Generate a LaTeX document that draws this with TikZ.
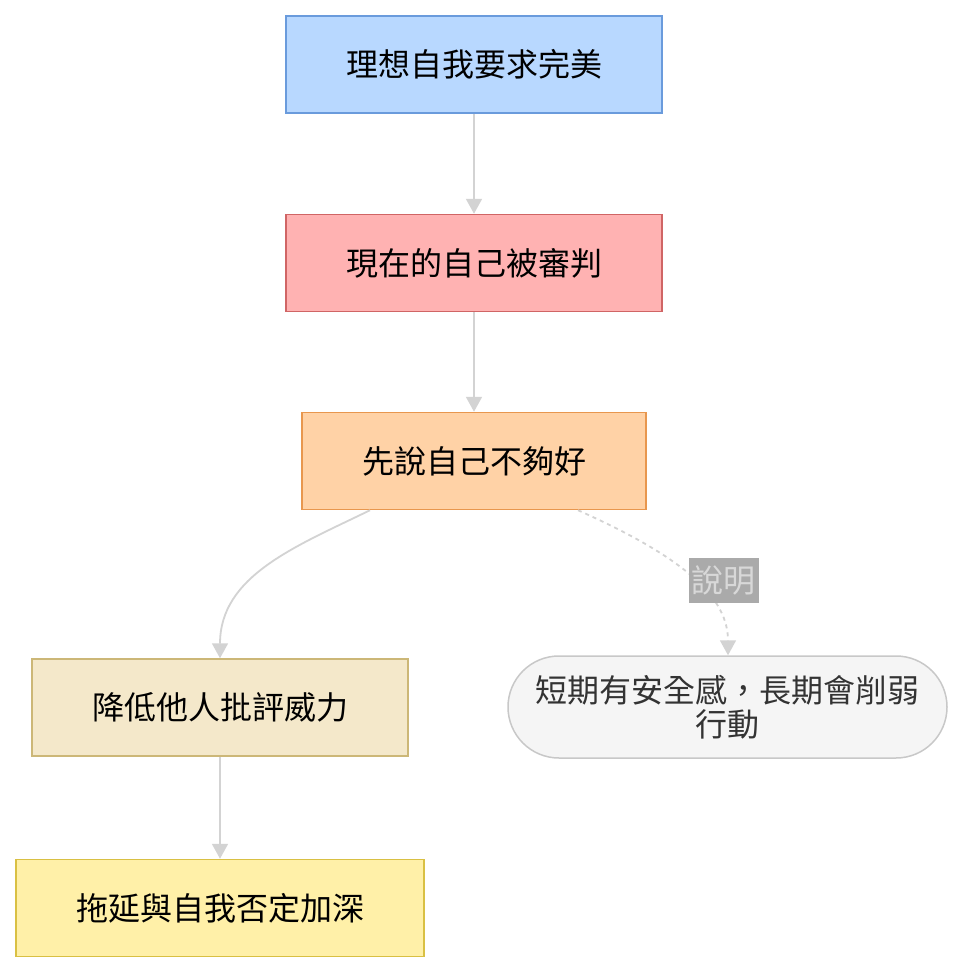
\documentclass[tikz,border=0pt]{standalone}
\usepackage{fontspec}
\newfontfamily\cjk{Noto Sans CJK TC}
\usetikzlibrary{arrows.meta,shapes.misc}
\definecolor{edgec}{HTML}{D3D3D3}
\definecolor{f1}{HTML}{B8D8FF}\definecolor{d1}{HTML}{6A9BDC}
\definecolor{f2}{HTML}{FFB2B2}\definecolor{d2}{HTML}{D06565}
\definecolor{f3}{HTML}{FFD2A6}\definecolor{d3}{HTML}{E8974E}
\definecolor{f4}{HTML}{F4E8CA}\definecolor{d4}{HTML}{CCB777}
\definecolor{f5}{HTML}{FFF0A8}\definecolor{d5}{HTML}{D9C043}
\definecolor{f6}{HTML}{F5F5F5}\definecolor{d6}{HTML}{C8C8C8}\definecolor{t6}{HTML}{333333}
\definecolor{lblbg}{HTML}{AAAAAA}\definecolor{lbltx}{HTML}{D8D8D8}
\tikzset{
  box/.style={draw, line width=1.5pt, minimum height=97pt, inner sep=0pt, font=\cjk\fontsize{32}{37}\selectfont, text=black},
  conn/.style={draw=edgec, line width=1.8pt, -{Triangle[width=16pt,length=15pt]}},
  edgelabel/.style={fill=lblbg, text=lbltx, inner xsep=3pt, minimum height=45pt, font=\cjk\fontsize{32}{36}\selectfont},
}
\begin{document}
\begin{tikzpicture}[x=1pt,y=-1pt]
\useasboundingbox[fill=white] (0,0) rectangle (964,974);
\node[box, fill=f1, draw=d1, minimum width=376pt] (n1) at (474,64.5) {理想自我要求完美};
\node[box, fill=f2, draw=d2, minimum width=376pt] (n2) at (474,263) {現在的自己被審判};
\node[box, fill=f3, draw=d3, minimum width=344pt] (n3) at (474,461) {先說自己不夠好};
\node[box, fill=f4, draw=d4, minimum width=376pt] (n4) at (220,707.5) {降低他人批評威力};
\node[box, fill=f5, draw=d5, minimum width=408pt] (n5) at (220,908) {拖延與自我否定加深};
\node[box, rounded rectangle, fill=f6, draw=d6, text=t6, minimum width=439pt, minimum height=102pt, align=center] (n6) at (727.5,707) {短期有安全感，長期會削弱\\[-3pt]行動};
\draw[conn] (n1) -- (n2);
\draw[conn] (n2) -- (n3);
\draw[conn] (n3.south -| 370,0) to[out=-154,in=90] (n4.north -| 220,0);
\draw[conn] (n4) -- (n5);
\draw[conn, dash pattern=on 4pt off 4pt] (n3.south -| 578,0) .. controls (690,560) and (728,600) .. (n6.north -| 728,0);
\node[edgelabel] (lbl) at (723.5,580.5) {說明};
\end{tikzpicture}
\end{document}
